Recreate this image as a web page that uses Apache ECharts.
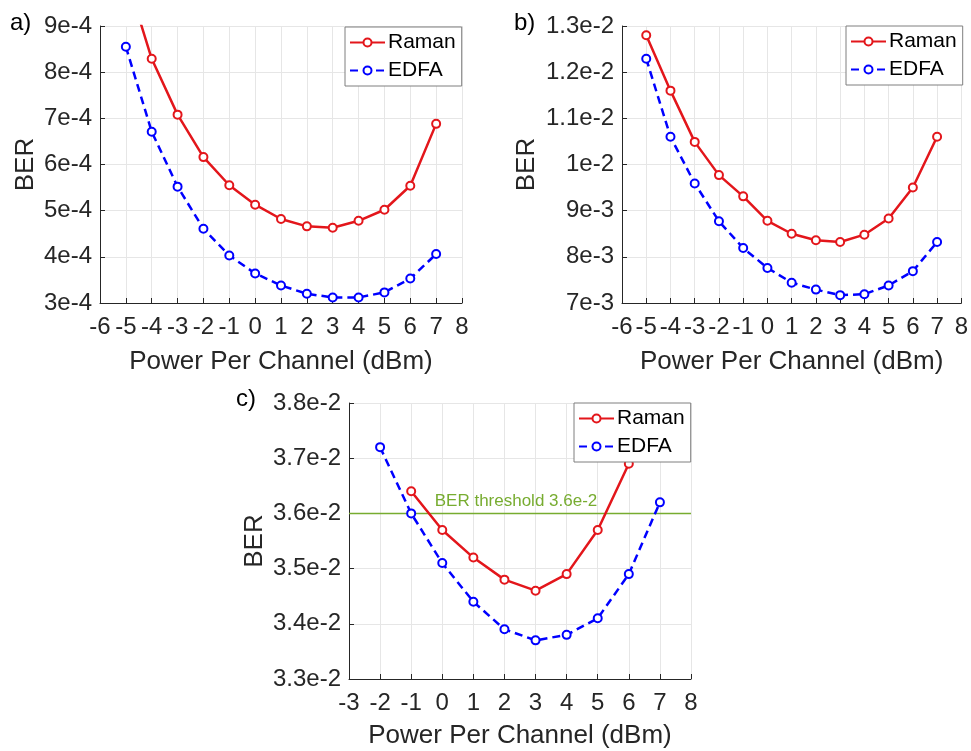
<!DOCTYPE html>
<html>
<head>
<meta charset="utf-8">
<script src="https://cdn.jsdelivr.net/npm/echarts@6/dist/echarts.min.js"></script>
<style>
html,body{margin:0;padding:0;background:#fff;}
#chart{width:971px;height:751px;}
</style>
</head>
<body>
<div id="chart"></div>
<script>
// ---- data ----
var xA = [-5,-4,-3,-2,-1,0,1,2,3,4,5,6,7];
var ramanA = [1.01e-3,8.29e-4,7.08e-4,6.16e-4,5.55e-4,5.13e-4,4.82e-4,4.66e-4,4.63e-4,4.78e-4,5.02e-4,5.54e-4,6.88e-4];
var edfaA  = [8.55e-4,6.71e-4,5.52e-4,4.61e-4,4.03e-4,3.64e-4,3.38e-4,3.20e-4,3.12e-4,3.12e-4,3.23e-4,3.53e-4,4.06e-4];

var xB = [-5,-4,-3,-2,-1,0,1,2,3,4,5,6,7];
var ramanB = [1.28e-2,1.16e-2,1.049e-2,9.77e-3,9.31e-3,8.78e-3,8.50e-3,8.36e-3,8.32e-3,8.48e-3,8.83e-3,9.50e-3,1.06e-2];
var edfaB  = [1.229e-2,1.06e-2,9.59e-3,8.77e-3,8.19e-3,7.76e-3,7.44e-3,7.29e-3,7.17e-3,7.19e-3,7.38e-3,7.69e-3,8.32e-3];

var xRamanC = [-1,0,1,2,3,4,5,6];
var ramanC = [3.64e-2,3.57e-2,3.52e-2,3.48e-2,3.46e-2,3.49e-2,3.57e-2,3.69e-2];
var xEdfaC = [-2,-1,0,1,2,3,4,5,6,7];
var edfaC  = [3.72e-2,3.60e-2,3.51e-2,3.44e-2,3.39e-2,3.37e-2,3.38e-2,3.41e-2,3.49e-2,3.62e-2];
var threshold = 3.6e-2;
var thresholdLabel = 'BER threshold 3.6e-2';

var xRangeAB = [-6, 8];
var xRangeC = [-3, 8];
var yRangeA = [3e-4, 9e-4, 1e-4];
var yRangeB = [7e-3, 1.3e-2, 1e-3];
var yRangeC = [3.3e-2, 3.8e-2, 1e-3];
var panelLabels = ['a)', 'b)', 'c)'];
var seriesNames = ['Raman', 'EDFA'];

// ---- chart ----
var RED = '#e3161b', BLUE = '#0000ff', GREEN = '#77ac30', AX = '#262626';
var FONT = 'Liberation Sans, Arial, sans-serif';
function zip(xs, ys){ return xs.map(function(x,i){ return [x, ys[i]]; }); }
function fmtExp(v){ return parseFloat(v.toPrecision(6)).toExponential().replace('+',''); }

var grids = [
  {left:100, top:26, width:362, height:277},
  {left:622, top:26, width:341, height:277},
  {left:349, top:403, width:342, height:276}
];
function xAxis(i, rng, gap){
  return {
    type:'value', gridIndex:i, min:rng[0], max:rng[1], interval:1,
    name:'Power Per Channel (dBm)', nameLocation:'middle', nameGap:gap,
    nameTextStyle:{color:AX, fontSize:26, fontFamily:FONT},
    axisLine:{onZero:false, lineStyle:{color:AX, width:1}},
    axisTick:{inside:true, length:5, lineStyle:{color:AX}},
    axisLabel:{color:AX, fontSize:24, fontFamily:FONT, margin:12},
    splitLine:{show:true, lineStyle:{color:'#e6e6e6', width:1}}
  };
}
function yAxis(i, rng, gap){
  return {
    type:'value', gridIndex:i, min:rng[0], max:rng[1], interval:rng[2],
    name:'BER', nameLocation:'middle', nameGap:gap,
    nameTextStyle:{color:AX, fontSize:26, fontFamily:FONT},
    axisLine:{show:true, onZero:false, lineStyle:{color:AX, width:1}},
    axisTick:{show:true, inside:true, length:5, lineStyle:{color:AX}},
    axisLabel:{color:AX, fontSize:24, fontFamily:FONT, margin:8, formatter:fmtExp},
    splitLine:{show:true, lineStyle:{color:'#e6e6e6', width:1}}
  };
}
function lineSeries(name, i, data, color, dashed){
  return {
    name:name, type:'line', xAxisIndex:i, yAxisIndex:i, data:data,
    symbol:'emptyCircle', symbolSize:8, smooth:false, clip:true,
    itemStyle:{color:color, borderColor:color, borderWidth:2},
    lineStyle:{color:color, width:2.5, type: dashed ? [8,5] : 'solid'},
    emphasis:{disabled:true}, z:3
  };
}
function legend(left, top){
  return {
    left:left, top:top, orient:'vertical', data:seriesNames,
    backgroundColor:'#fff', borderColor:'#7f7f7f', borderWidth:1,
    padding:[5,6,5,4], itemWidth:35, itemHeight:10, itemGap:7,
    textStyle:{color:'#000', fontSize:21, fontFamily:FONT, lineHeight:21, padding:[0,0,0,-2]},
    selectedMode:false, z:10
  };
}
function panelGraphics(){
  return [
    {type:'text', left:10, top:11, style:{text:panelLabels[0], fill:'#000', font:'24px ' + FONT}},
    {type:'text', left:514, top:11, style:{text:panelLabels[1], fill:'#000', font:'24px ' + FONT}},
    {type:'text', left:236, top:387, style:{text:panelLabels[2], fill:'#000', font:'24px ' + FONT}}
  ];
}

var option = {
  animation:false,
  backgroundColor:'#fff',
  grid:grids,
  xAxis:[xAxis(0, xRangeAB, 46), xAxis(1, xRangeAB, 46), xAxis(2, xRangeC, 44)],
  yAxis:[yAxis(0, yRangeA, 61), yAxis(1, yRangeB, 82), yAxis(2, yRangeC, 81)],
  legend:[legend(345,27), legend(846,26), legend(574,403)],
  series:[
    lineSeries('Raman', 0, zip(xA, ramanA), RED, false),
    lineSeries('EDFA', 0, zip(xA, edfaA), BLUE, true),
    lineSeries('Raman', 1, zip(xB, ramanB), RED, false),
    lineSeries('EDFA', 1, zip(xB, edfaB), BLUE, true),
    {
      name:'threshold', type:'line', xAxisIndex:2, yAxisIndex:2,
      data:[[xRangeC[0], threshold],[xRangeC[1], threshold]],
      symbol:'none', silent:true, z:2,
      lineStyle:{color:GREEN, width:1.5, type:'solid'}
    },
    lineSeries('Raman', 2, zip(xRamanC, ramanC), RED, false),
    lineSeries('EDFA', 2, zip(xEdfaC, edfaC), BLUE, true)
  ],
  graphic:panelGraphics()
};
var chart = echarts.init(document.getElementById('chart'), null, {renderer:'canvas'});
chart.setOption(option);

// threshold label placed through the axis scale (centre of the x range, just above the line)
var pMid = chart.convertToPixel({gridIndex:2}, [(xRangeC[0] + xRangeC[1]) / 2, threshold]);
chart.setOption({
  graphic:panelGraphics().concat([
    {type:'text', x:pMid[0] - 4, y:pMid[1] - 4, z:5,
     style:{text:thresholdLabel, fill:GREEN, font:'17px ' + FONT, textAlign:'center', textVerticalAlign:'bottom'}}
  ])
});
</script>
</body>
</html>
